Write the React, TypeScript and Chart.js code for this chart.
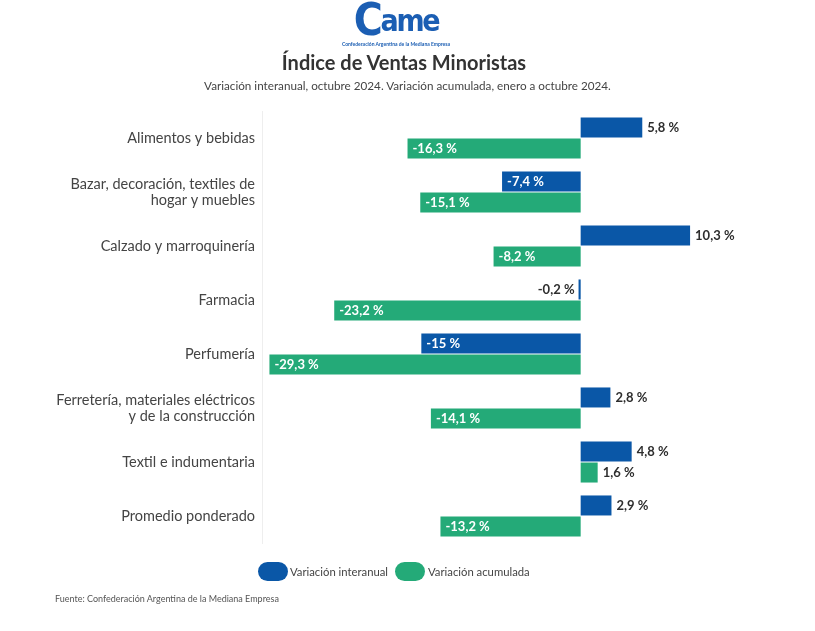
import React, { useEffect, useRef } from "react";
import { Chart, registerables } from "chart.js";

Chart.register(...registerables);

const categories: (string | string[])[] = [
  "Alimentos y bebidas",
  ["Bazar, decoración, textiles de", "hogar y muebles"],
  "Calzado y marroquinería",
  "Farmacia",
  "Perfumería",
  ["Ferretería, materiales eléctricos", "y de la construcción"],
  "Textil e indumentaria",
  "Promedio ponderado",
];
const interanual = [5.8, -7.4, 10.3, -0.2, -15, 2.8, 4.8, 2.9];
const acumulada = [-16.3, -15.1, -8.2, -23.2, -29.3, -14.1, 1.6, -13.2];
const seriesNames = ["Variación interanual", "Variación acumulada"];
const BLUE = "#0a57a7";
const GREEN = "#24aa78";
const FONT = "Lato, 'Noto Sans', sans-serif";

const fmt = (v: number) => v.toString().replace(".", ",") + " %";

const labelPlugin = {
  id: "barLabels",
  afterDatasetsDraw(chart: any) {
    const ctx = chart.ctx;
    ctx.save();
    ctx.font = `bold 13px ${FONT}`;
    ctx.textBaseline = "middle";
    chart.data.datasets.forEach((ds: any, di: number) => {
      const meta = chart.getDatasetMeta(di);
      meta.data.forEach((bar: any, i: number) => {
        const v = ds.data[i];
        const txt = fmt(v);
        const tw = ctx.measureText(txt).width;
        const left = Math.min(bar.x, bar.base);
        const right = Math.max(bar.x, bar.base);
        const w = right - left;
        if (v >= 0) {
          ctx.fillStyle = "#2e2e2e";
          ctx.textAlign = "left";
          ctx.fillText(txt, right + 5, bar.y);
        } else if (w < tw + 10) {
          ctx.fillStyle = "#2e2e2e";
          ctx.textAlign = "right";
          ctx.fillText(txt, left - 4, bar.y);
        } else {
          ctx.fillStyle = "#fff";
          ctx.textAlign = "left";
          ctx.fillText(txt, left + 5, bar.y);
        }
      });
    });
    ctx.restore();
  },
};

export default function App() {
  const ref = useRef<HTMLCanvasElement>(null);
  useEffect(() => {
    document.body.style.margin = "0";
    const chart = new Chart(ref.current!, {
      type: "bar",
      data: {
        labels: categories,
        datasets: [
          { label: seriesNames[0], data: interanual, backgroundColor: BLUE, categoryPercentage: 0.78, barPercentage: 0.95 },
          { label: seriesNames[1], data: acumulada, backgroundColor: GREEN, categoryPercentage: 0.78, barPercentage: 0.95 },
        ],
      },
      options: {
        indexAxis: "y",
        animation: false,
        responsive: false,
        layout: { padding: { top: 111, bottom: 88, left: 0, right: 75 } },
        plugins: { legend: { display: false }, tooltip: { enabled: false } },
        scales: {
          x: { display: false, min: -30, max: 15 },
          y: {
            afterFit: (s: any) => { s.width = 262; },
            grid: { display: false, drawTicks: false },
            border: { display: true, color: "#eeeeee" },
            ticks: { color: "#444", font: { family: FONT, size: 14.5, lineHeight: 1.1 }, padding: 7, autoSkip: false },
          },
        },
      },
      plugins: [labelPlugin],
    });
    return () => chart.destroy();
  }, []);

  return (
    <div style={{ position: "relative", width: 815, height: 631, background: "#fff", fontFamily: FONT, overflow: "hidden" }}>
      <canvas ref={ref} width={815} height={631} style={{ position: "absolute", left: 0, top: 0 }} />
      <div style={{ position: "absolute", left: 336, top: 0, width: 120, textAlign: "center" }}>
        <div style={{ fontFamily: "'DejaVu Sans', sans-serif", fontWeight: 900, fontSize: 30, color: "#1b5eb3", letterSpacing: -2.5, lineHeight: "40px", transform: "scaleX(0.9)", whiteSpace: "nowrap" }}>
          <span style={{ fontSize: 44, verticalAlign: "-4px" }}>C</span>ame
        </div>
        <div style={{ fontSize: 5, color: "#1b5eb3", fontWeight: 700, lineHeight: "6px", whiteSpace: "nowrap" }}>Confederación Argentina de la Mediana Empresa</div>
      </div>
      <div style={{ position: "absolute", left: 0, top: 49, width: 808, textAlign: "center", fontWeight: 700, fontSize: 20, color: "#333", lineHeight: "26px" }}>
        Índice de Ventas Minoristas
      </div>
      <div style={{ position: "absolute", left: 0, top: 77, width: 815, textAlign: "center", fontSize: 11.7, color: "#444", lineHeight: "16px" }}>
        Variación interanual, octubre 2024. Variación acumulada, enero a octubre 2024.
      </div>
      <div style={{ position: "absolute", left: 258, top: 562, display: "flex", alignItems: "center", fontSize: 11.3, color: "#444" }}>
        <div style={{ display: "flex", alignItems: "center", marginRight: 7 }}>
          <span style={{ display: "inline-block", width: 30, height: 19, borderRadius: 10, background: BLUE, marginRight: 2 }} />
          <span>{seriesNames[0]}</span>
        </div>
        <div style={{ display: "flex", alignItems: "center" }}>
          <span style={{ display: "inline-block", width: 30, height: 19, borderRadius: 10, background: GREEN, marginRight: 3 }} />
          <span>{seriesNames[1]}</span>
        </div>
      </div>
      <div style={{ position: "absolute", left: 55, top: 593, fontSize: 9, color: "#555" }}>
        Fuente: Confederación Argentina de la Mediana Empresa
      </div>
    </div>
  );
}
